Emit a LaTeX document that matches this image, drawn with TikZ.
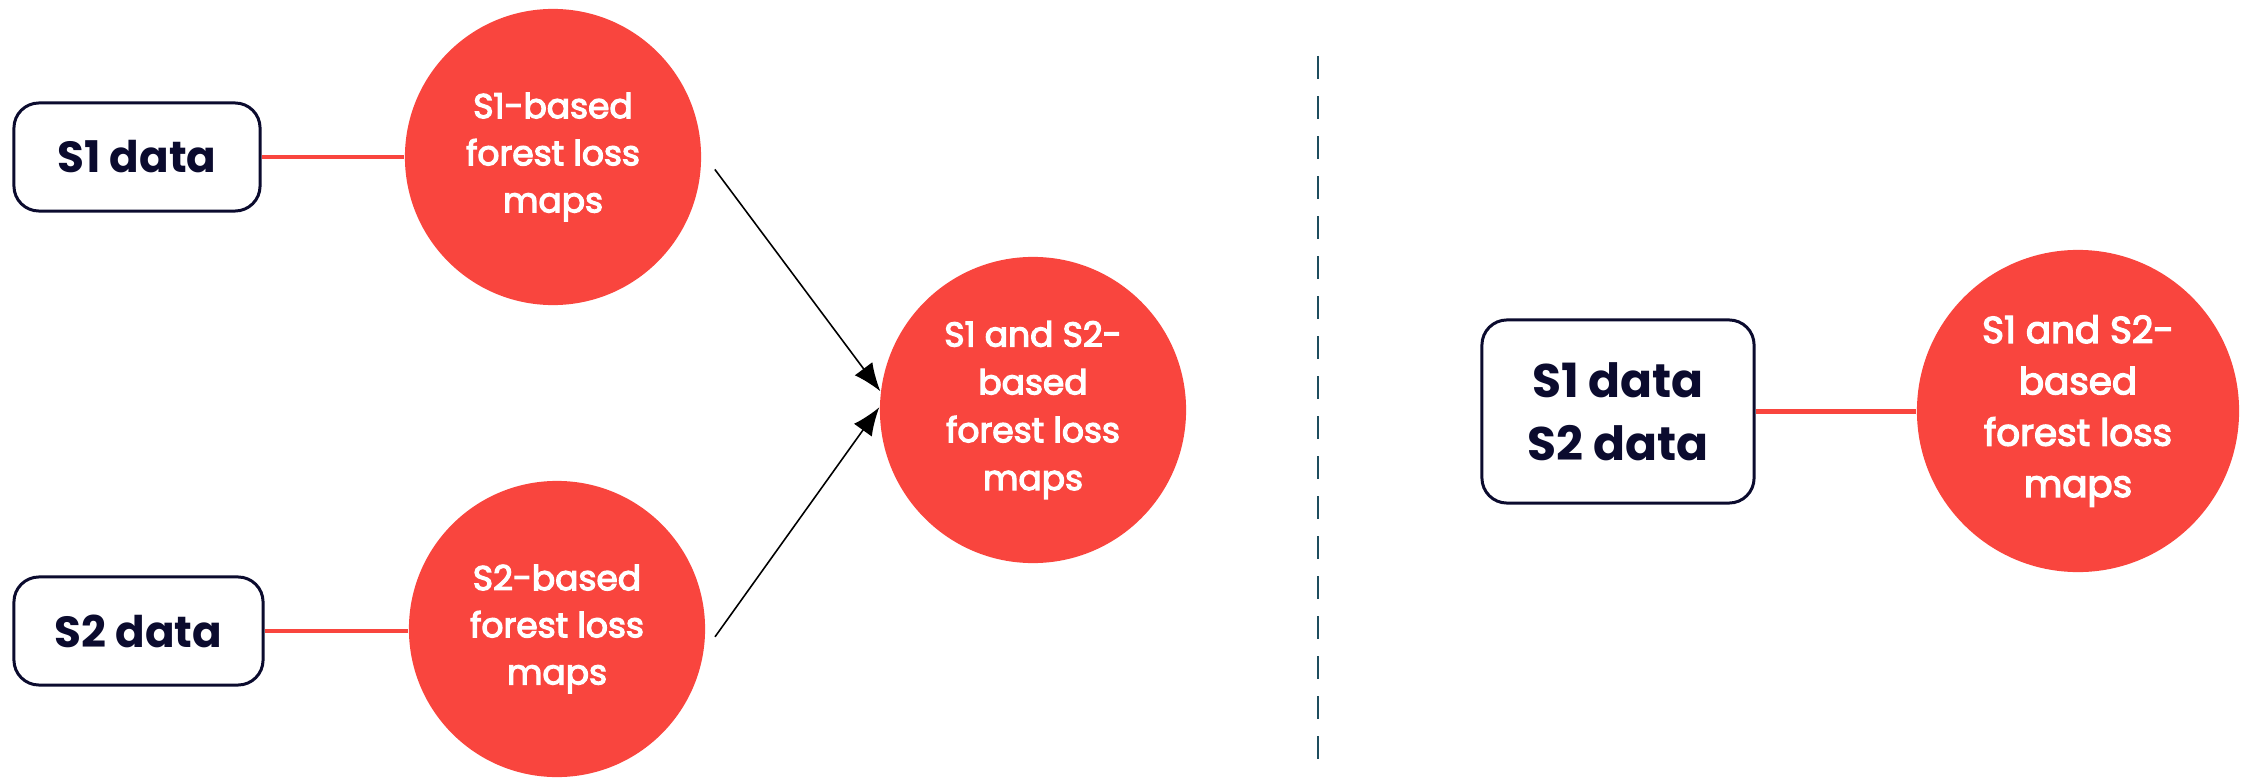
\documentclass[tikz,border=0pt]{standalone}
\usepackage{fontspec}
\setmainfont{Poppins}
\newfontfamily\mapfont[FakeBold=3.5]{Poppins}
\usetikzlibrary{arrows.meta}
\definecolor{mapred}{HTML}{F9453E}
\definecolor{inkblue}{HTML}{0B0B2E}
\definecolor{divider}{HTML}{1E4D5E}
\tikzset{
  databox/.style={draw=inkblue, line width=0.85pt, rounded corners=2.5mm, fill=white,
    text=inkblue, align=center, inner sep=0pt},
  mapcircle/.style={circle, fill=mapred, text=white, align=center, inner sep=0pt},
  redlink/.style={draw=mapred, line width=1.15pt},
  flow/.style={draw=black, line width=0.45pt, -{Latex[length=2.8mm,width=2.2mm]}},
  sep/.style={draw=divider, line width=0.6pt, dash pattern=on 2.3mm off 1.7mm}
}
\begin{document}
\begin{tikzpicture}[x=0.01cm, y=-0.01cm]
\useasboundingbox (0,0) rectangle (2252,779);

% left: two separate chains merged into one product
\node[databox, minimum width=2.46cm, minimum height=1.08cm, font=\bfseries\fontsize{12.4}{16}\selectfont] (d1) at (137,157) {S1 data};
\node[databox, minimum width=2.49cm, minimum height=1.08cm, font=\bfseries\fontsize{12.4}{16}\selectfont] (d2) at (138.5,631) {S2 data};

\node[mapcircle, minimum size=2.96cm, font=\mapfont\fontsize{9.8}{13.4}\selectfont] (c1) at (553,157) {S1-based\\forest loss\\maps};
\node[mapcircle, minimum size=2.96cm, font=\mapfont\fontsize{9.8}{13.4}\selectfont] (c2) at (557,629) {S2-based\\forest loss\\maps};
\node[mapcircle, minimum size=3.06cm, font=\mapfont\fontsize{9.8}{13.6}\selectfont] (c3) at (1033,410) {S1 and S2-\\based\\forest loss\\maps};

\draw[redlink] (d1.east) -- (c1.west |- d1.east);
\draw[redlink] (d2.east) -- (c2.west |- d2.east);

\draw[flow, shorten <=0.22cm] (c1.2.3) -- (c3.173);
\draw[flow, shorten <=0.19cm] (c2.-9.9) -- (c3.179);

% divider
\coordinate (top) at (1318,56);
\coordinate (bot) at (1318,762);
\draw[sep] (top) -- (bot);

% right: joint processing
\node[databox, minimum width=2.72cm, minimum height=1.83cm, font=\bfseries\fontsize{13.4}{18}\selectfont] (d3) at (1618,411.5) {S1 data\\S2 data};
\node[mapcircle, minimum size=3.22cm, font=\mapfont\fontsize{10.6}{14.6}\selectfont] (c4) at (2078,411) {S1 and S2-\\based\\forest loss\\maps};
\draw[redlink] (d3.east) -- (c4.west |- d3.east);
\end{tikzpicture}
\end{document}
